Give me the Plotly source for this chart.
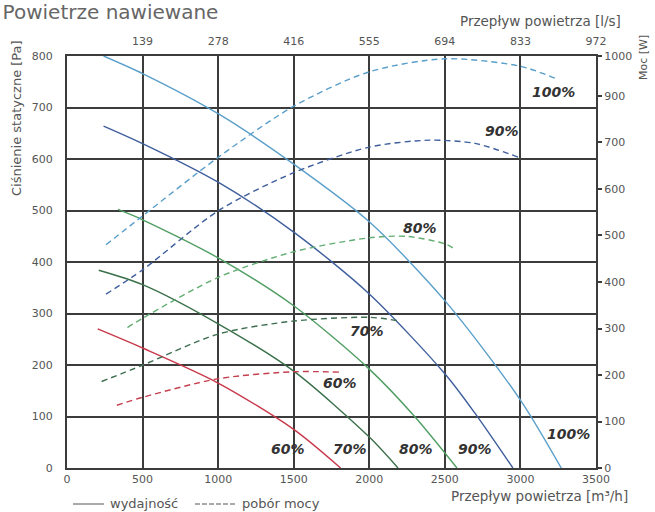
import plotly.graph_objects as go

# ---------------- data ----------------
speeds = ["100%", "90%", "80%", "70%", "60%"]

# static pressure [Pa] vs air flow [m3/h]  (solid)
p100_x = [242, 500, 1000, 1500, 2000, 2500, 3000, 3270]
p100_y = [800, 766, 688, 590, 478, 325, 132, 0]
p90_x = [242, 500, 1000, 1500, 2000, 2500, 2700, 2950]
p90_y = [664, 630, 555, 458, 338, 183, 106, 0]
p80_x = [337, 500, 1000, 1500, 2000, 2300, 2580]
p80_y = [502, 482, 408, 315, 192, 100, 0]
p70_x = [210, 500, 1000, 1500, 2000, 2190]
p70_y = [384, 356, 280, 188, 60, 0]
p60_x = [203, 500, 1000, 1500, 1810]
p60_y = [270, 233, 165, 75, 0]

# power consumption (right axis units) vs air flow [m3/h]  (dashed)
w100_x = [258, 500, 1000, 1500, 2000, 2500, 3000, 3230]
w100_y = [480, 542, 668, 778, 852, 880, 864, 838]
w90_x = [258, 500, 1000, 1500, 2000, 2400, 2700, 2990]
w90_y = [374, 426, 553, 635, 690, 705, 698, 668]
w80_x = [400, 500, 1000, 1500, 2000, 2250, 2500, 2575]
w80_y = [302, 322, 410, 465, 495, 498, 482, 469]
w70_x = [229, 500, 1000, 1500, 2000, 2185]
w70_y = [186, 221, 288, 316, 324, 317]
w60_x = [330, 500, 1000, 1500, 1810]
w60_y = [135, 152, 192, 207, 206]

x_ticks = [0, 500, 1000, 1500, 2000, 2500, 3000, 3500]
y_ticks = [0, 100, 200, 300, 400, 500, 600, 700, 800]
top_tick_labels = ["139", "278", "416", "555", "694", "833", "972"]
right_tick_vals = [0, 100, 200, 300, 400, 500, 600, 700, 800, 886]
right_tick_labels = ["0", "100", "200", "300", "400", "500", "600", "700", "900", "1000"]
legend_names = ["wydajność", "pobór mocy"]

# ---------------- styles ----------------
solid_colors = ["#5a9fca", "#3e5e9c", "#4f9e62", "#3a7049", "#c8384a"]
dash_colors = ["#5a9fca", "#3e5e9c", "#62ad72", "#3d6e50", "#c4404f"]
GRID = "#3c3c3c"
TXT = "#555555"
FONT = "DejaVu Sans"

fig = go.Figure()

pressure = [(p100_x, p100_y), (p90_x, p90_y), (p80_x, p80_y), (p70_x, p70_y), (p60_x, p60_y)]
power = [(w100_x, w100_y), (w90_x, w90_y), (w80_x, w80_y), (w70_x, w70_y), (w60_x, w60_y)]

for i, (xs, ys) in enumerate(pressure):
    fig.add_trace(go.Scatter(x=xs, y=ys, mode="lines", showlegend=False,
                             line=dict(color=solid_colors[i], width=1.4, shape="spline", smoothing=0.8),
                             xaxis="x", yaxis="y", name=speeds[i]))
for i, (xs, ys) in enumerate(power):
    fig.add_trace(go.Scatter(x=xs, y=ys, mode="lines", showlegend=False,
                             line=dict(color=dash_colors[i], width=1.4, dash="6px,4px",
                                       shape="spline", smoothing=0.8),
                             xaxis="x", yaxis="y2", name=speeds[i]))

# top axis helper trace (l/s)
fig.add_trace(go.Scatter(x=[0, x_ticks[-1] / 3.6], y=[None, None], mode="lines",
                         showlegend=False, xaxis="x2", yaxis="y", hoverinfo="skip"))

# curve labels (position, text)
curve_labels = [
    (3216, 730, "100%"), (2879, 654, "90%"), (2338, 466, "80%"),
    (1988, 266, "70%"), (1803, 165, "60%"),
    (1459, 37, "60%"), (1875, 37, "70%"), (2311, 37, "80%"),
    (2701, 37, "90%"), (3315, 66, "100%"),
]
annotations = []
for lx, ly, t in curve_labels:
    annotations.append(dict(x=lx, y=ly, xref="x", yref="y", text="<b><i>%s</i></b>" % t,
                            showarrow=False, font=dict(family=FONT, size=14, color="#333")))

# plot area in pixels: left 67, right 596, top 56, bottom 468
def px(xp):
    return (xp - 67) / 529.0

def py(yp):
    return (468 - yp) / 412.0

annotations += [
    dict(text="Przepływ powietrza [l/s]", xref="paper", yref="paper", x=px(623), y=py(21),
         xanchor="right", yanchor="middle", showarrow=False,
         font=dict(family=FONT, size=13.5, color=TXT)),
    dict(text="Przepływ powietrza [m³/h]", xref="paper", yref="paper", x=px(630), y=py(496),
         xanchor="right", yanchor="middle", showarrow=False,
         font=dict(family=FONT, size=13.5, color=TXT)),
    dict(text="Ciśnienie statyczne [Pa]", xref="paper", yref="paper", x=px(16), y=py(38),
         xanchor="center", yanchor="top", textangle=-90, showarrow=False,
         font=dict(family=FONT, size=13, color=TXT)),
    dict(text="Moc [W]", xref="paper", yref="paper", x=px(643), y=py(58),
         xanchor="center", yanchor="middle", textangle=-90, showarrow=False,
         font=dict(family=FONT, size=11, color=TXT)),
    dict(text=legend_names[0], xref="paper", yref="paper", x=px(108), y=py(503),
         xanchor="left", yanchor="middle", showarrow=False,
         font=dict(family=FONT, size=13, color=TXT)),
    dict(text=legend_names[1], xref="paper", yref="paper", x=px(240), y=py(503),
         xanchor="left", yanchor="middle", showarrow=False,
         font=dict(family=FONT, size=13, color=TXT)),
]

# legend key samples
shapes = [
    dict(type="line", xref="paper", yref="paper", x0=px(73), x1=px(104), y0=py(504), y1=py(504),
         line=dict(color="#555", width=1)),
    dict(type="line", xref="paper", yref="paper", x0=px(195), x1=px(237), y0=py(504), y1=py(504),
         line=dict(color="#555", width=1, dash="5px,2px")),
]

fig.update_layout(
    width=655, height=512,
    margin=dict(l=67, r=59, t=56, b=44),
    paper_bgcolor="white", plot_bgcolor="white",
    font=dict(family=FONT, size=11, color=TXT),
    title=dict(text="Powietrze nawiewane", x=0.004, xref="container", xanchor="left",
               y=1 - 12 / 512, yref="container", yanchor="middle",
               font=dict(family=FONT, size=20, color="#666")),
    showlegend=False,
    xaxis=dict(range=[0, 3500], tickvals=x_ticks, showgrid=True, gridcolor=GRID, gridwidth=1.5,
               showline=True, linecolor=GRID, linewidth=2, mirror=True, zeroline=False,
               ticks="", tickfont=dict(size=11, color=TXT)),
    xaxis2=dict(range=[0, x_ticks[-1] / 3.6], overlaying="x", side="top",
                tickvals=[v / 3.6 for v in x_ticks[1:]], ticktext=top_tick_labels,
                showgrid=False, zeroline=False, showline=False,
                ticks="outside", ticklen=6, tickcolor="rgba(0,0,0,0)",
                tickfont=dict(size=11, color=TXT)),
    yaxis=dict(range=[0, 800], tickvals=y_ticks, showgrid=True, gridcolor=GRID, gridwidth=1.5,
               showline=True, linecolor=GRID, linewidth=2, mirror=True, zeroline=False,
               ticks="outside", ticklen=10, tickcolor="rgba(0,0,0,0)",
               tickfont=dict(size=11, color=TXT)),
    yaxis2=dict(range=[0, 886], overlaying="y", side="right",
                tickvals=right_tick_vals, ticktext=right_tick_labels,
                showgrid=False, zeroline=False, showline=False,
                ticks="outside", ticklen=5, tickcolor=GRID, tickwidth=1.5,
                tickfont=dict(size=11, color=TXT)),
    annotations=annotations,
    shapes=shapes,
)

fig.write_html("out.html", config={"displayModeBar": False},
               post_script="document.body.style.margin='0px';")
